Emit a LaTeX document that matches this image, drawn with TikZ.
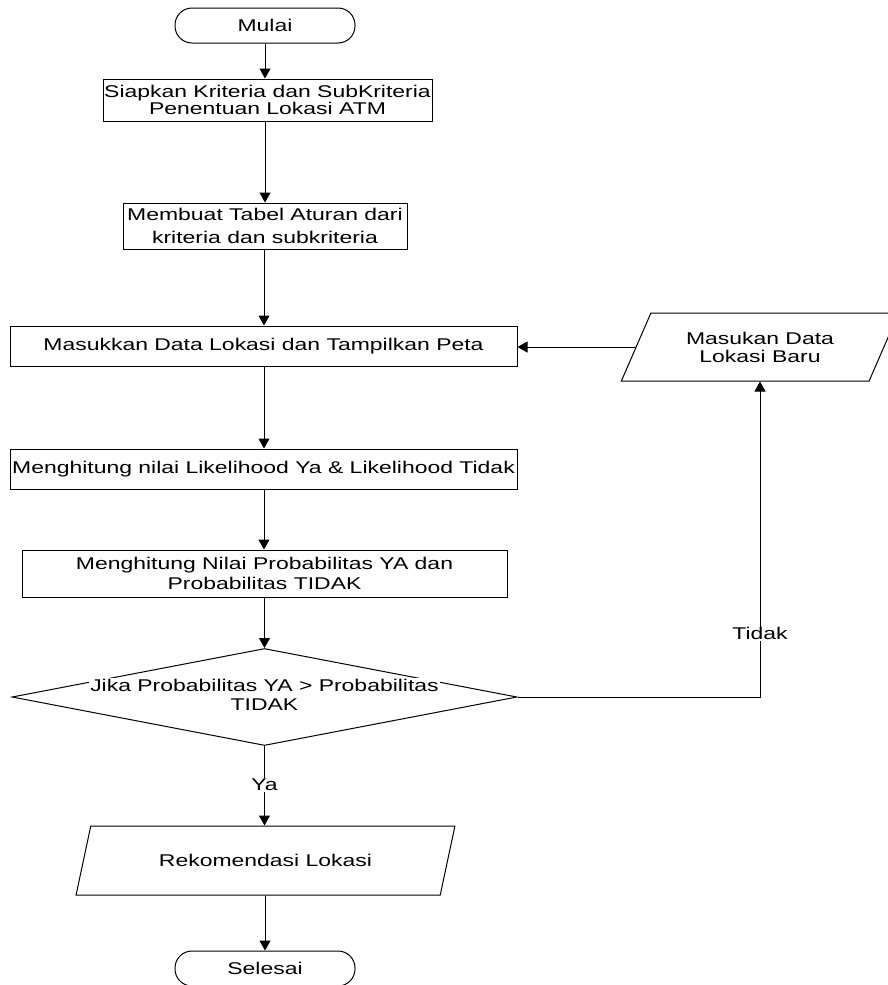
\documentclass[tikz,border=0pt]{standalone}
\usepackage{fontspec}
\setmainfont[FakeStretch=1.35]{Liberation Sans}
\usetikzlibrary{arrows.meta,shapes.geometric}

\tikzset{
  lh/.style={font=\fontsize{17pt}{#1}\selectfont},
  proc/.style={draw, rectangle, line width=1pt, inner sep=1pt, align=center, lh=19pt},
  term/.style={draw, rectangle, line width=1pt, rounded corners=17pt,
    minimum width=180pt, minimum height=35pt, inner sep=1pt, lh=19pt},
  io/.style={draw, trapezium, line width=1pt, trapezium left angle=58,
    trapezium right angle=122, trapezium stretches=true, inner sep=1pt,
    align=center, lh=19pt},
  decision/.style={draw, diamond, line width=1pt, inner sep=0pt},
  flow/.style={draw, line width=1pt, -{Triangle[length=10pt,width=11pt]}},
  tag/.style={fill=white, inner sep=1pt, lh=19pt},
}

\begin{document}
\begin{tikzpicture}[x=1pt, y=-1pt]
  \useasboundingbox (0,0) rectangle (888,985);

  % start / end terminals
  \node[term] (mulai) at (265,25.5) {Mulai};
  \node[term] (selesai) at (265,968.5) {Selesai};

  % process steps
  \node[proc, lh=16.7pt, minimum width=329pt, minimum height=42pt] (siap) at (267.5,100)
    {Siapkan Kriteria dan SubKriteria\\Penentuan Lokasi ATM};
  \node[proc, lh=22.7pt, minimum width=284pt, minimum height=46pt] (tabel) at (265,226)
    {Membuat Tabel Aturan dari\\kriteria dan subkriteria};
  \node[proc, minimum width=507pt, minimum height=40pt] (masuk) at (263.5,346)
    {Masukkan Data Lokasi dan Tampilkan Peta};
  \node[proc, minimum width=507pt, minimum height=40pt] (like) at (263.5,469)
    {Menghitung nilai Likelihood Ya \& Likelihood Tidak};
  \node[proc, lh=20pt, minimum width=485pt, minimum height=47pt] (prob) at (264.5,573.5)
    {Menghitung Nilai Probabilitas YA dan\\Probabilitas TIDAK};

  % decision, its first text line masks the edges it crosses
  \node[decision, minimum width=505pt, minimum height=97pt] (dec) at (264.5,697) {};
  \node[tag] (dectext) at (264.5,685) {Jika Probabilitas YA > Probabilitas};
  \node[inner sep=1pt, lh=19pt] (decsub) at (264.5,705) {TIDAK};

  % input / output
  \node[io, lh=18pt, minimum width=278pt, minimum height=68pt] (baru) at (760,347)
    {Masukan Data\\Lokasi Baru};
  \node[io, minimum width=379pt, minimum height=69pt] (rek) at (265.5,860.5)
    {Rekomendasi Lokasi};

  % main flow
  \draw[flow] (mulai.south) -- (mulai.south |- siap.north);
  \draw[flow] (mulai.south |- siap.south) -- (mulai.south |- tabel.north);
  \draw[flow] (264,0 |- tabel.south) -- (264,0 |- masuk.north);
  \draw[flow] (264,0 |- masuk.south) -- (264,0 |- like.north);
  \draw[flow] (264,0 |- like.south) -- (264,0 |- prob.north);
  \draw[flow] (dec.north |- prob.south) -- (dec.north);
  \draw[flow] (dec.south) -- node[tag, pos=0.49] (ya) {Ya} (dec.south |- rek.north);
  \draw[flow] (selesai.north |- rek.south) -- (selesai.north);

  % loop back for a new location
  \draw[flow] (dec.east) -| node[tag, pos=0.6] (tidak) {Tidak} (baru.south);
  \draw[flow] (baru.left side) -- (baru.left side -| masuk.east);
\end{tikzpicture}
\end{document}
